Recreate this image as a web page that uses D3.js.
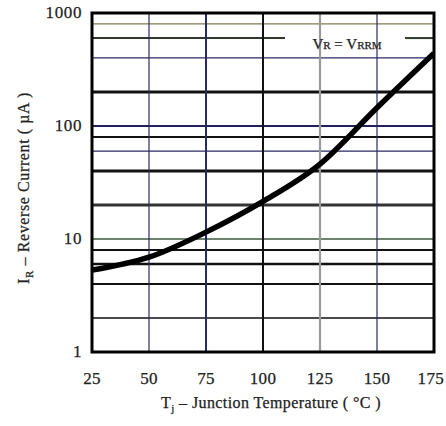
<!DOCTYPE html>
<html>
<head>
<meta charset="utf-8">
<script src="https://cdn.jsdelivr.net/npm/d3@7"></script>
<style>
  body { margin: 0; background: #fff; }
  text { font-family: "Liberation Serif", "DejaVu Serif", serif; fill: #222; stroke: #222; stroke-width: 0.25px; }
</style>
</head>
<body>
<script>
// data
var temps = [25, 50, 75, 100, 125, 150, 175];
var current = [5.3, 6.9, 11.5, 21.5, 46, 145, 440];
var xTicks = [25, 50, 75, 100, 125, 150, 175];
var yTicks = [1, 10, 100, 1000];
var yGrid = [2, 4, 6, 8, 10, 20, 40, 60, 80, 100, 200, 400, 600, 800];
var xGrid = [50, 75, 100, 125, 150];

// line looks (the scan has mixed weights/colours)
var hStyle = {
    2: ['#4a4a50', 2.2], 4: ['#111', 2], 6: ['#111', 2.5], 8: ['#111', 2],
    10: ['#3d5a3d', 1.6], 20: ['#333', 3], 40: ['#111', 3], 60: ['#2a2a60', 1.2],
    80: ['#111', 2], 100: ['#22225a', 2], 200: ['#111', 3], 400: ['#2a2a60', 1.2],
    600: ['#2d3a2a', 2], 800: ['#807a50', 1.3]
};
var vStyle = {
    50: ['#2a2a60', 1.2], 75: ['#2a2a60', 2], 100: ['#111', 2],
    125: ['#9a9a9a', 2.2], 150: ['#2a2a60', 1.2]
};

var width = 446, height = 426;
var margin = {top: 13, right: 12, bottom: 74, left: 92};
var w = width - margin.left - margin.right;
var h = height - margin.top - margin.bottom;

var svg = d3.select('body').append('svg')
    .attr('width', width).attr('height', height);
var g = svg.append('g').attr('transform', 'translate(' + margin.left + ',' + margin.top + ')');

var x = d3.scaleLinear().domain([25, 175]).range([0, w]);
var y = d3.scaleLog().domain([1, 1000]).range([h, 0]);

// horizontal grid (600 line has a gap for the label)
yGrid.forEach(function (v) {
    var s = hStyle[v];
    if (v === 600) {
        g.append('line').attr('x1', 0).attr('x2', 193)
            .attr('y1', y(v)).attr('y2', y(v)).attr('stroke', s[0]).attr('stroke-width', s[1]);
        g.append('line').attr('x1', 313).attr('x2', w)
            .attr('y1', y(v)).attr('y2', y(v)).attr('stroke', s[0]).attr('stroke-width', s[1]);
    } else {
        g.append('line').attr('x1', 0).attr('x2', w)
            .attr('y1', y(v)).attr('y2', y(v)).attr('stroke', s[0]).attr('stroke-width', s[1]);
    }
});

xGrid.forEach(function (v) {
    var s = vStyle[v];
    g.append('line').attr('x1', x(v)).attr('x2', x(v))
        .attr('y1', 0).attr('y2', h).attr('stroke', s[0]).attr('stroke-width', s[1]);
});

// curve
g.append('clipPath').attr('id', 'clip').append('rect').attr('width', w).attr('height', h);
var line = d3.line()
    .x(function (d, i) { return x(temps[i]); })
    .y(function (d) { return y(d); })
    .curve(d3.curveMonotoneX);
g.append('path').datum(current)
    .attr('clip-path', 'url(#clip)')
    .attr('d', line)
    .attr('fill', 'none').attr('stroke', '#000').attr('stroke-width', 5.5);

// frame
g.append('rect').attr('width', w).attr('height', h)
    .attr('fill', 'none').attr('stroke', '#000').attr('stroke-width', 3);

// label inside
var lab = g.append('text').attr('x', 255).attr('y', 36)
    .attr('text-anchor', 'middle').style('font-size', '15px');
lab.append('tspan').text('V');
lab.append('tspan').attr('font-size', '11px').text('R');
lab.append('tspan').text(' = V');
lab.append('tspan').attr('font-size', '11px').text('RRM');

// tick labels
svg.selectAll('.yt').data(yTicks).enter().append('text')
    .attr('x', 82).attr('y', function (d) { return margin.top + y(d) + 5; })
    .attr('text-anchor', 'end').style('font-size', '17px').style('letter-spacing', '0.6px')
    .text(function (d) { return d; });

svg.selectAll('.xt').data(xTicks).enter().append('text')
    .attr('y', 384)
    .attr('text-anchor', 'middle').style('font-size', '17px').style('letter-spacing', '0.3px')
    .text(function (d) { return d; })
    .attr('x', function (d) {
        // keep the last label inside the window
        var half = this.getComputedTextLength() / 2;
        return Math.min(margin.left + x(d), width - 2 - half);
    });

// axis titles
var xt = svg.append('text').attr('x', 271).attr('y', 408)
    .attr('text-anchor', 'middle').style('font-size', '16px').style('letter-spacing', '0.4px');
xt.append('tspan').text('T');
xt.append('tspan').attr('font-size', '11px').attr('dy', 4).text('j');
xt.append('tspan').attr('dy', -4).text(' – Junction Temperature ( °C )');

var yt = svg.append('text')
    .attr('transform', 'translate(29,188) rotate(-90)')
    .attr('text-anchor', 'middle').style('font-size', '16px').style('letter-spacing', '0.6px');
yt.append('tspan').text('I');
yt.append('tspan').attr('font-size', '11px').attr('dy', 4).text('R');
yt.append('tspan').attr('dy', -4).text(' – Reverse Current ( µA )');
</script>
</body>
</html>
